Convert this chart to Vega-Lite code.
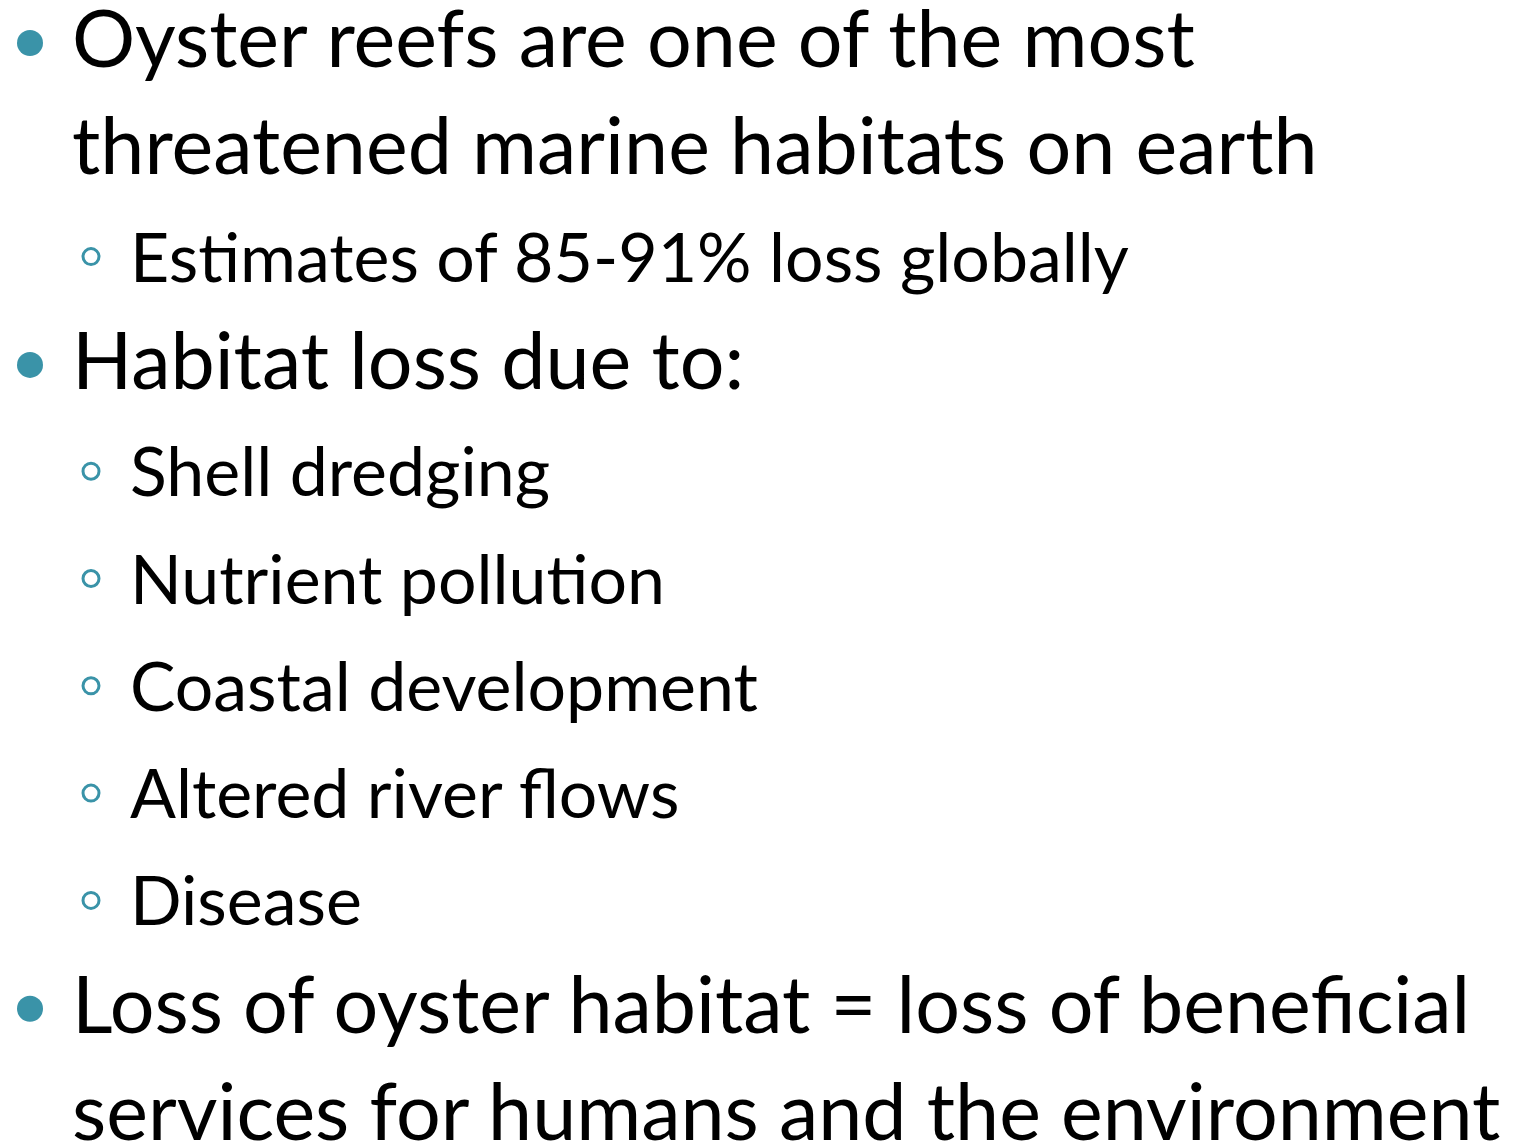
{
  "$schema": "https://vega.github.io/schema/vega-lite/v6.json",
  "autosize": {"type": "fit", "contains": "padding"},
  "width": 1524,
  "height": 1147,
  "padding": 0,
  "background": "white",
  "config": {"view": {"stroke": null}},
  "data": {"values": [
    {"row": 0, "level": 1, "bullet": true, "text": "Oyster reefs are one of the most"},
    {"row": 1, "level": 1, "bullet": false, "text": "threatened marine habitats on earth"},
    {"row": 2, "level": 2, "bullet": true, "text": "Estimates of 85-91% loss globally"},
    {"row": 3, "level": 1, "bullet": true, "text": "Habitat loss due to:"},
    {"row": 4, "level": 2, "bullet": true, "text": "Shell dredging"},
    {"row": 5, "level": 2, "bullet": true, "text": "Nutrient pollution"},
    {"row": 6, "level": 2, "bullet": true, "text": "Coastal development"},
    {"row": 7, "level": 2, "bullet": true, "text": "Altered river flows"},
    {"row": 8, "level": 2, "bullet": true, "text": "Disease"},
    {"row": 9, "level": 1, "bullet": true, "text": "Loss of oyster habitat = loss of beneficial"},
    {"row": 10, "level": 1, "bullet": false, "text": "services for humans and the environment"}
  ]},
  "encoding": {
    "x": {"field": "level", "type": "quantitative", "scale": {"domain": [1, 2], "range": [72, 130]}, "axis": null},
    "y": {"field": "row", "type": "quantitative", "scale": {"domain": [0, 10], "range": [67, 1140]}, "axis": null}
  },
  "layer": [
    {
      "transform": [{"filter": "datum.level == 1"}],
      "mark": {"type": "text", "align": "left", "baseline": "alphabetic", "font": "Lato", "fontSize": 79, "color": "black"},
      "encoding": {"text": {"field": "text"}}
    },
    {
      "transform": [{"filter": "datum.level == 2"}],
      "mark": {"type": "text", "align": "left", "baseline": "alphabetic", "font": "Lato", "fontSize": 68, "color": "black"},
      "encoding": {"text": {"field": "text"}}
    },
    {
      "transform": [{"filter": "datum.level == 1 && datum.bullet"}],
      "mark": {"type": "point", "shape": "circle", "filled": true, "size": 676, "color": "#3A93A8", "opacity": 1, "xOffset": -42, "yOffset": -24},
      "encoding": {}
    },
    {
      "transform": [{"filter": "datum.level == 2 && datum.bullet"}],
      "mark": {"type": "point", "shape": "circle", "filled": false, "size": 256, "strokeWidth": 3, "color": "#3A93A8", "opacity": 1, "xOffset": -39, "yOffset": -25},
      "encoding": {}
    }
  ]
}
